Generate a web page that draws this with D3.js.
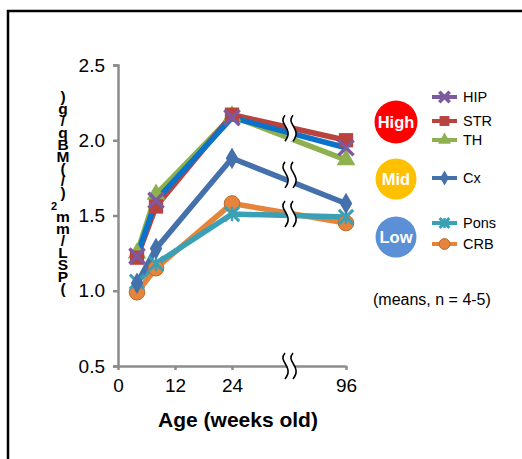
<!DOCTYPE html>
<html><head><meta charset="utf-8">
<script src="https://cdn.jsdelivr.net/npm/d3@7"></script>
<style>body{margin:0;background:#fff;} svg{display:block;font-family:"Liberation Sans",Arial,sans-serif;}</style>
</head><body>
<svg id="c" width="522" height="459"></svg>
<script>
const weeks = [4, 8, 24, 96];
const seriesNames = ["HIP", "STR", "TH", "Cx", "Pons", "CRB"];
const HIP  = [1.23, 1.60, 2.15, 1.95];
const STR  = [1.22, 1.56, 2.17, 2.00];
const TH   = [1.25, 1.64, 2.16, 1.87];
const Cx   = [1.05, 1.28, 1.88, 1.58];
const Pons = [1.06, 1.18, 1.51, 1.49];
const CRB  = [0.99, 1.15, 1.58, 1.45];
const xTicks = [0, 12, 24, 96];
const yTicks = [0.5, 1.0, 1.5, 2.0, 2.5];
const groups = ["High", "Mid", "Low"];
const breakValues = [2.08, 1.77, 1.51];
const yLabel = "(PSL/mm\u00b2)/(MBq/g)";

const values = {HIP, STR, TH, Cx, Pons, CRB};
const lineColor = {HIP:"#0a72c8", STR:"#b9433f", TH:"#8eb04f", Cx:"#4470ab", Pons:"#3aa0b6", CRB:"#e5843a"};
const legendColor = {HIP:"#7b5a9e", STR:"#b9433f", TH:"#8eb04f", Cx:"#4470ab", Pons:"#3aa0b6", CRB:"#e5843a"};
const markerColor = {HIP:"#7b5a9e", STR:"#b9433f", TH:"#8eb04f", Cx:"#4470ab", Pons:"#3aa0b6", CRB:"#e5843a"};
const markerType = {HIP:"x", STR:"square", TH:"triangle", Cx:"diamond", Pons:"star", CRB:"circle"};
const groupColor = {High:"#ff0000", Mid:"#ffc000", Low:"#5b8fd6"};

const svg = d3.select("#c");
// frame
svg.append("rect").attr("x",8).attr("y",11).attr("width",600).attr("height",500)
  .attr("fill","none").attr("stroke","#000").attr("stroke-width",2.5);

const x = d3.scaleLinear().domain([0,24,96]).range([118,232,346]);
const y = d3.scaleLinear().domain([0.5,2.5]).range([366,65]);
const axisColor = "#8c8c8c";

// y axis
const ya = svg.append("g").attr("transform","translate(118,0)")
  .call(d3.axisLeft(y).tickValues(yTicks).tickFormat(d3.format(".1f")).tickSize(5).tickPadding(8));
ya.select(".domain").attr("stroke",axisColor).attr("stroke-width",2.5);
ya.selectAll(".tick line").attr("stroke",axisColor).attr("stroke-width",2.5);
ya.selectAll(".tick text").attr("font-size",19).attr("fill","#000").attr("font-family","Liberation Sans, Arial, sans-serif");

// x axis
const xa = svg.append("g").attr("transform","translate(0,366)")
  .call(d3.axisBottom(x).tickValues(xTicks).tickSize(4).tickPadding(9).tickSizeOuter(0));
xa.select(".domain").attr("stroke",axisColor).attr("stroke-width",2.5);
xa.selectAll(".tick line").attr("stroke",axisColor).attr("stroke-width",2.5);
xa.selectAll(".tick text").attr("font-size",19).attr("fill","#000").attr("font-family","Liberation Sans, Arial, sans-serif");

svg.append("text").attr("x",238).attr("y",427).attr("text-anchor","middle")
  .attr("font-size",21).attr("font-weight","bold").text("Age (weeks old)");

// y label: upright glyphs stacked bottom to top
const chars = Array.from(yLabel);
const yl = svg.append("g");
chars.forEach((ch,i)=>{
  const cy = 294 - i*12;
  const sup = ch === "\u00b2";
  yl.append("text").attr("x", sup ? 54 : 63).attr("y", cy).attr("text-anchor","middle")
    .attr("font-size", sup ? 11 : 15.5).attr("font-weight","bold").text(sup ? "2" : ch);
});

// marker function
function marker(g, type, color, cx, cy, s){
  if(type==="circle"){
    g.append("circle").attr("cx",cx).attr("cy",cy).attr("r",s*0.6).attr("fill",color).attr("stroke",d3.color(color).darker(0.6)).attr("stroke-width",1);
  } else if(type==="square"){
    g.append("rect").attr("x",cx-s*0.55).attr("y",cy-s*0.55).attr("width",s*1.1).attr("height",s*1.1).attr("fill",color);
  } else if(type==="triangle"){
    g.append("path").attr("d",d3.symbol(d3.symbolTriangle, s*s*0.9)()).attr("transform",`translate(${cx},${cy})`).attr("fill",color);
  } else if(type==="diamond"){
    g.append("path").attr("d",d3.symbol(d3.symbolDiamond, s*s*0.8)()).attr("transform",`translate(${cx},${cy})`).attr("fill",color);
  } else if(type==="x"){
    g.append("path").attr("d",d3.symbol(d3.symbolX, s*s*0.9)()).attr("transform",`translate(${cx},${cy})`).attr("fill","none").attr("stroke",color).attr("stroke-width",3.5);
  } else if(type==="star"){
    g.append("path").attr("d",d3.symbol(d3.symbolX, s*s*0.8)()).attr("transform",`translate(${cx},${cy})`).attr("fill","none").attr("stroke",color).attr("stroke-width",3);
    g.append("line").attr("x1",cx).attr("x2",cx).attr("y1",cy-s*0.55).attr("y2",cy+s*0.55).attr("stroke",color).attr("stroke-width",2.5);
  }
}

const line = d3.line().x((d,i)=>x(weeks[i])).y(d=>y(d));
const plot = svg.append("g");
const order = ["CRB","Pons","Cx","TH","STR","HIP"];
order.forEach(n=>{
  plot.append("path").attr("d",line(values[n])).attr("fill","none")
    .attr("stroke",lineColor[n]).attr("stroke-width",5.5).attr("stroke-linejoin","round");
});
order.forEach(n=>{
  values[n].forEach((v,i)=> marker(plot, markerType[n], markerColor[n], x(weeks[i]), y(v), 13));
});

// break marks
function brk(cx, cy, h){
  const g = svg.append("g").attr("transform",`translate(${cx},${cy})`);
  const w = h/2;
  const s1 = `M${-4},${-w} C${-12},${-w*0.3} ${6},${w*0.0} ${-4},${w}`;
  const s2 = `M${4},${-w} C${-4},${-w*0.3} ${14},${w*0.0} ${4},${w}`;
  const fill = `M${-4},${-w} C${-12},${-w*0.3} ${6},${w*0.0} ${-4},${w} L${4},${w} C${14},${0} ${-4},${-w*0.3} ${4},${-w} Z`;
  g.append("path").attr("d",fill).attr("fill","#fff");
  g.append("path").attr("d",s1).attr("fill","none").attr("stroke","#000").attr("stroke-width",1.6);
  g.append("path").attr("d",s2).attr("fill","none").attr("stroke","#000").attr("stroke-width",1.6);
}
const bx = (x(24)+x(96))/2;
breakValues.forEach(v=>brk(bx, y(v), 26));
brk(bx, y(0.5), 26);

// legend groups
const groupY = {High:122, Mid:179, Low:237};
groups.forEach(gname=>{
  svg.append("circle").attr("cx",396).attr("cy",groupY[gname]).attr("r",gname==="High"?21.5:20.5).attr("fill",groupColor[gname]);
  svg.append("text").attr("x",396).attr("y",groupY[gname]+6).attr("text-anchor","middle")
    .attr("fill","#fff").attr("font-weight","bold").attr("font-size",16.5).text(gname);
});
const legendY = {HIP:97, STR:121, TH:140, Cx:178, Pons:223, CRB:244};
seriesNames.forEach(n=>{
  const ly = legendY[n];
  svg.append("line").attr("x1",432).attr("x2",457).attr("y1",ly).attr("y2",ly)
    .attr("stroke",legendColor[n]).attr("stroke-width",4);
  marker(svg, markerType[n], markerColor[n], 444.5, ly, 9);
  svg.append("text").attr("x",463).attr("y",ly+5).attr("font-size",14.5).text(n);
});
svg.append("text").attr("x",373).attr("y",305).attr("font-size",16).text("(means, n = 4-5)");
</script>
</body></html>
